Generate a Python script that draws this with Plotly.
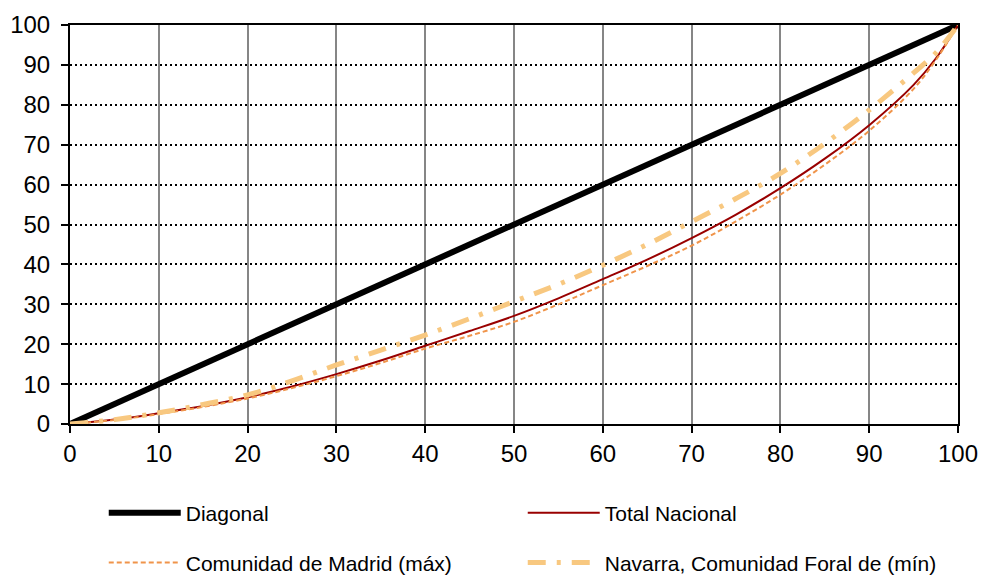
import plotly.graph_objects as go

# ---- data ----
diag_x = [0, 100]
diag_y = [0, 100]

pct_pop = [0, 5, 10, 15, 20, 25, 30, 35, 40, 45, 50, 55, 60, 65, 70, 75, 80, 85, 90, 95, 97.5, 100]
total_nacional = [0, 1.1, 2.7, 4.5, 6.7, 9.4, 12.5, 15.9, 19.6, 23.3, 27.1, 31.5, 36.3, 41.2, 46.6, 52.5, 59.1, 66.5, 74.9, 85.0, 91.6, 100]
madrid = [0, 1.0, 2.5, 4.3, 6.4, 9.0, 12.0, 15.3, 18.9, 22.1, 25.6, 30.0, 34.8, 39.6, 44.7, 50.8, 57.5, 65.0, 73.5, 84.0, 91.2, 100]
navarra = [0, 1.1, 2.8, 4.9, 7.3, 10.8, 14.8, 18.5, 22.3, 26.4, 30.7, 35.0, 39.8, 45.0, 50.7, 56.5, 62.8, 70.3, 78.7, 88.0, 93.0, 100]

tick_vals = [0, 10, 20, 30, 40, 50, 60, 70, 80, 90, 100]
tick_text = [str(v) for v in tick_vals]

names = ["Diagonal", "Total Nacional", "Comunidad de Madrid (máx)", "Navarra, Comunidad Foral de (mín)"]

FONT = "Liberation Sans, Arial, sans-serif"

fig = go.Figure()
fig.add_trace(go.Scatter(x=diag_x, y=diag_y, mode="lines", name=names[0],
                         line=dict(color="black", width=6), legend="legend"))
fig.add_trace(go.Scatter(x=pct_pop, y=total_nacional, mode="lines", name=names[1],
                         line=dict(color="#990000", width=2, shape="spline"), legend="legend"))
fig.add_trace(go.Scatter(x=pct_pop, y=madrid, mode="lines", name=names[2],
                         line=dict(color="#F0944A", width=2, dash="5px,3px", shape="spline"), legend="legend2"))
fig.add_trace(go.Scatter(x=pct_pop, y=navarra, mode="lines", name=names[3],
                         line=dict(color="#F8C880", width=5, dash="18px,11px,4px,11px", shape="spline"), legend="legend2"))

axis_common = dict(
    range=[0, 100], tickvals=tick_vals, ticktext=tick_text,
    showline=True, linecolor="black", linewidth=2, mirror=True,
    ticks="outside", ticklen=7, tickwidth=2, tickcolor="black",
    tickfont=dict(family=FONT, size=24, color="black"),
    zeroline=False, fixedrange=True, automargin=False,
)

legend_common = dict(orientation="h", xanchor="left", yanchor="middle",
                     entrywidth=332, itemwidth=72,
                     font=dict(family=FONT, size=21, color="black"),
                     bgcolor="rgba(0,0,0,0)")

fig.update_layout(
    width=982, height=575,
    margin=dict(l=70, r=24, t=25, b=151, autoexpand=False),
    paper_bgcolor="white", plot_bgcolor="white",
    font=dict(family=FONT, color="black"),
    xaxis=dict(**axis_common, showgrid=True, gridcolor="#868686", gridwidth=2),
    yaxis=dict(**axis_common, showgrid=True, gridcolor="black", gridwidth=2, griddash="2px,3px",
               ticklabelstandoff=6),
    legend=dict(**legend_common, x=0.038, y=-0.223),
    legend2=dict(**legend_common, x=0.038, y=-0.348),
    showlegend=True,
)

fig.write_html("out.html", config={"displayModeBar": False},
               post_script="document.body.style.margin='0';document.body.style.overflow='hidden';")
